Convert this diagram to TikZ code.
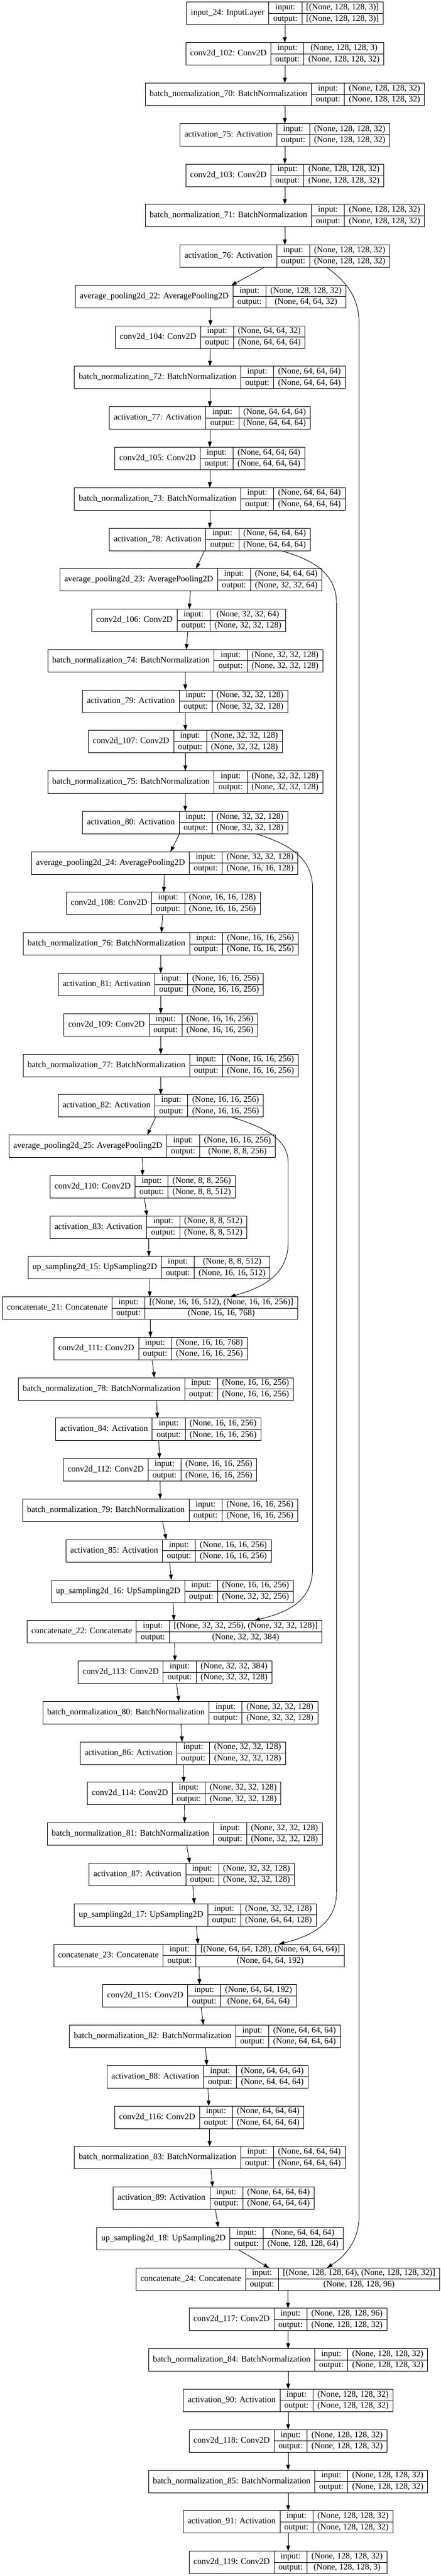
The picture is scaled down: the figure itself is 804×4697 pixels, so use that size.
\documentclass[tikz,border=0pt]{standalone}
\usepackage{fontspec}
\setmainfont{Liberation Serif}
\usetikzlibrary{arrows.meta}
\newcommand\lfont{\fontsize{15.6}{18}\selectfont}
\newlength\lwa \newlength\lwb \newlength\lwc \newlength\lwx \newlength\lwt
\newcommand\measure[2]{\pgfinterruptpicture\sbox0{\normalfont\lfont #2}\global#1=\wd0\relax\endpgfinterruptpicture}
\tikzset{
  box/.style={draw=black, line width=1pt, minimum height=41pt, inner sep=0pt, outer sep=0pt, anchor=north west},
  cell/.style={draw=black, line width=0.9pt},
  txt/.style={inner sep=0pt, font=\lfont, text height=7pt, text depth=0pt},
  edge/.style={draw=black, line width=0.9pt, -{Triangle[length=10pt,width=7pt]}},
}
\newcommand\layer[6]{%
  \measure\lwa{#4}\addtolength\lwa{16pt}%
  \measure\lwb{output:}\addtolength\lwb{16pt}%
  \measure\lwc{#5}\measure\lwx{#6}%
  \ifdim\lwx>\lwc \lwc=\lwx\fi
  \addtolength\lwc{16pt}%
  \lwt=\dimexpr\lwa+\lwb+\lwc\relax
  \pgfmathsetmacro\yt{4+73.77*#2}%
  \pgfmathsetmacro\ym{\yt+20.5}%
  \pgfmathsetmacro\yb{\yt+41}%
  \pgfmathsetmacro\yu{\yt+10.25}%
  \pgfmathsetmacro\yd{\yt+30.75}%
  \pgfmathsetmacro\xl{#3-0.5*\lwt}%
  \pgfmathsetmacro\xa{\xl+\lwa}%
  \pgfmathsetmacro\xb{\xa+\lwb}%
  \pgfmathsetmacro\xr{\xb+\lwc}%
  \pgfmathsetmacro\xna{\xl+0.5*\lwa}%
  \pgfmathsetmacro\xnb{\xa+0.5*\lwb}%
  \pgfmathsetmacro\xnc{\xb+0.5*\lwc}%
  \node[box, minimum width=\lwt] (#1) at (\xl,\yt) {};
  \draw[cell] (\xa,\yt) -- (\xa,\yb) (\xb,\yt) -- (\xb,\yb) (\xa,\ym) -- (\xr,\ym);
  \node[txt] (#1-n) at (\xna,\ym) {#4};
  \node[txt] (#1-i) at (\xnb,\yu) {input:};
  \node[txt] (#1-o) at (\xnb,\yd) {output:};
  \node[txt] (#1-a) at (\xnc,\yu) {#5};
  \node[txt] (#1-b) at (\xnc,\yd) {#6};
}
\begin{document}
\begin{tikzpicture}[x=1pt,y=-1pt]
\fill[white] (0,0) rectangle (804,4697);
\useasboundingbox (0,0) rectangle (804,4697);
\layer{in24}{0}{520}{input\_24: InputLayer}{[(None, 128, 128, 3)]}{[(None, 128, 128, 3)]}
\layer{c102}{1}{520}{conv2d\_102: Conv2D}{(None, 128, 128, 3)}{(None, 128, 128, 32)}
\layer{bn70}{2}{520}{batch\_normalization\_70: BatchNormalization}{(None, 128, 128, 32)}{(None, 128, 128, 32)}
\layer{a75}{3}{520}{activation\_75: Activation}{(None, 128, 128, 32)}{(None, 128, 128, 32)}
\layer{c103}{4}{520}{conv2d\_103: Conv2D}{(None, 128, 128, 32)}{(None, 128, 128, 32)}
\layer{bn71}{5}{520}{batch\_normalization\_71: BatchNormalization}{(None, 128, 128, 32)}{(None, 128, 128, 32)}
\layer{a76}{6}{520}{activation\_76: Activation}{(None, 128, 128, 32)}{(None, 128, 128, 32)}
\layer{ap22}{7}{384.5}{average\_pooling2d\_22: AveragePooling2D}{(None, 128, 128, 32)}{(None, 64, 64, 32)}
\layer{c104}{8}{383.8}{conv2d\_104: Conv2D}{(None, 64, 64, 32)}{(None, 64, 64, 64)}
\layer{bn72}{9}{383}{batch\_normalization\_72: BatchNormalization}{(None, 64, 64, 64)}{(None, 64, 64, 64)}
\layer{a77}{10}{383}{activation\_77: Activation}{(None, 64, 64, 64)}{(None, 64, 64, 64)}
\layer{c105}{11}{383}{conv2d\_105: Conv2D}{(None, 64, 64, 64)}{(None, 64, 64, 64)}
\layer{bn73}{12}{383}{batch\_normalization\_73: BatchNormalization}{(None, 64, 64, 64)}{(None, 64, 64, 64)}
\layer{a78}{13}{383}{activation\_78: Activation}{(None, 64, 64, 64)}{(None, 64, 64, 64)}
\layer{ap23}{14}{348.5}{average\_pooling2d\_23: AveragePooling2D}{(None, 64, 64, 64)}{(None, 32, 32, 64)}
\layer{c106}{15}{344.6}{conv2d\_106: Conv2D}{(None, 32, 32, 64)}{(None, 32, 32, 128)}
\layer{bn74}{16}{338.3}{batch\_normalization\_74: BatchNormalization}{(None, 32, 32, 128)}{(None, 32, 32, 128)}
\layer{a79}{17}{338.1}{activation\_79: Activation}{(None, 32, 32, 128)}{(None, 32, 32, 128)}
\layer{c107}{18}{338.4}{conv2d\_107: Conv2D}{(None, 32, 32, 128)}{(None, 32, 32, 128)}
\layer{bn75}{19}{338.3}{batch\_normalization\_75: BatchNormalization}{(None, 32, 32, 128)}{(None, 32, 32, 128)}
\layer{a80}{20}{338.1}{activation\_80: Activation}{(None, 32, 32, 128)}{(None, 32, 32, 128)}
\layer{ap24}{21}{300.8}{average\_pooling2d\_24: AveragePooling2D}{(None, 32, 32, 128)}{(None, 16, 16, 128)}
\layer{c108}{22}{298.2}{conv2d\_108: Conv2D}{(None, 16, 16, 128)}{(None, 16, 16, 256)}
\layer{bn76}{23}{293.5}{batch\_normalization\_76: BatchNormalization}{(None, 16, 16, 256)}{(None, 16, 16, 256)}
\layer{a81}{24}{293.6}{activation\_81: Activation}{(None, 16, 16, 256)}{(None, 16, 16, 256)}
\layer{c109}{25}{293.5}{conv2d\_109: Conv2D}{(None, 16, 16, 256)}{(None, 16, 16, 256)}
\layer{bn77}{26}{293.5}{batch\_normalization\_77: BatchNormalization}{(None, 16, 16, 256)}{(None, 16, 16, 256)}
\layer{a82}{27}{293.6}{activation\_82: Activation}{(None, 16, 16, 256)}{(None, 16, 16, 256)}
\layer{ap25}{28}{259.5}{average\_pooling2d\_25: AveragePooling2D}{(None, 16, 16, 256)}{(None, 8, 8, 256)}
\layer{c110}{29}{260.6}{conv2d\_110: Conv2D}{(None, 8, 8, 256)}{(None, 8, 8, 512)}
\layer{a83}{30}{271.1}{activation\_83: Activation}{(None, 8, 8, 512)}{(None, 8, 8, 512)}
\layer{up15}{31}{272.2}{up\_sampling2d\_15: UpSampling2D}{(None, 8, 8, 512)}{(None, 16, 16, 512)}
\layer{cat21}{32}{274}{concatenate\_21: Concatenate}{[(None, 16, 16, 512), (None, 16, 16, 256)]}{(None, 16, 16, 768)}
\layer{c111}{33}{275}{conv2d\_111: Conv2D}{(None, 16, 16, 768)}{(None, 16, 16, 256)}
\layer{bn78}{34}{284.5}{batch\_normalization\_78: BatchNormalization}{(None, 16, 16, 256)}{(None, 16, 16, 256)}
\layer{a84}{35}{288.9}{activation\_84: Activation}{(None, 16, 16, 256)}{(None, 16, 16, 256)}
\layer{c112}{36}{292}{conv2d\_112: Conv2D}{(None, 16, 16, 256)}{(None, 16, 16, 256)}
\layer{bn79}{37}{292.5}{batch\_normalization\_79: BatchNormalization}{(None, 16, 16, 256)}{(None, 16, 16, 256)}
\layer{a85}{38}{307.7}{activation\_85: Activation}{(None, 16, 16, 256)}{(None, 16, 16, 256)}
\layer{up16}{39}{314.9}{up\_sampling2d\_16: UpSampling2D}{(None, 16, 16, 256)}{(None, 32, 32, 256)}
\layer{cat22}{40}{318.5}{concatenate\_22: Concatenate}{[(None, 32, 32, 256), (None, 32, 32, 128)]}{(None, 32, 32, 384)}
\layer{c113}{41}{319.6}{conv2d\_113: Conv2D}{(None, 32, 32, 384)}{(None, 32, 32, 128)}
\layer{bn80}{42}{329.1}{batch\_normalization\_80: BatchNormalization}{(None, 32, 32, 128)}{(None, 32, 32, 128)}
\layer{a86}{43}{333.7}{activation\_86: Activation}{(None, 32, 32, 128)}{(None, 32, 32, 128)}
\layer{c114}{44}{336.3}{conv2d\_114: Conv2D}{(None, 32, 32, 128)}{(None, 32, 32, 128)}
\layer{bn81}{45}{337.3}{batch\_normalization\_81: BatchNormalization}{(None, 32, 32, 128)}{(None, 32, 32, 128)}
\layer{a87}{46}{350}{activation\_87: Activation}{(None, 32, 32, 128)}{(None, 32, 32, 128)}
\layer{up17}{47}{356.7}{up\_sampling2d\_17: UpSampling2D}{(None, 32, 32, 128)}{(None, 64, 64, 128)}
\layer{cat23}{48}{363.3}{concatenate\_23: Concatenate}{[(None, 64, 64, 128), (None, 64, 64, 64)]}{(None, 64, 64, 192)}
\layer{c115}{49}{364.4}{conv2d\_115: Conv2D}{(None, 64, 64, 192)}{(None, 64, 64, 64)}
\layer{bn82}{50}{373.9}{batch\_normalization\_82: BatchNormalization}{(None, 64, 64, 64)}{(None, 64, 64, 64)}
\layer{a88}{51}{378.8}{activation\_88: Activation}{(None, 64, 64, 64)}{(None, 64, 64, 64)}
\layer{c116}{52}{382.1}{conv2d\_116: Conv2D}{(None, 64, 64, 64)}{(None, 64, 64, 64)}
\layer{bn83}{53}{382.9}{batch\_normalization\_83: BatchNormalization}{(None, 64, 64, 64)}{(None, 64, 64, 64)}
\layer{a89}{54}{390.1}{activation\_89: Activation}{(None, 64, 64, 64)}{(None, 64, 64, 64)}
\layer{up18}{55}{401.4}{up\_sampling2d\_18: UpSampling2D}{(None, 64, 64, 64)}{(None, 128, 128, 64)}
\layer{cat24}{56}{525.5}{concatenate\_24: Concatenate}{[(None, 128, 128, 64), (None, 128, 128, 32)]}{(None, 128, 128, 96)}
\layer{c117}{57}{525.8}{conv2d\_117: Conv2D}{(None, 128, 128, 96)}{(None, 128, 128, 32)}
\layer{bn84}{58}{526}{batch\_normalization\_84: BatchNormalization}{(None, 128, 128, 32)}{(None, 128, 128, 32)}
\layer{a90}{59}{526}{activation\_90: Activation}{(None, 128, 128, 32)}{(None, 128, 128, 32)}
\layer{c118}{60}{526}{conv2d\_118: Conv2D}{(None, 128, 128, 32)}{(None, 128, 128, 32)}
\layer{bn85}{61}{526}{batch\_normalization\_85: BatchNormalization}{(None, 128, 128, 32)}{(None, 128, 128, 32)}
\layer{a91}{62}{526}{activation\_91: Activation}{(None, 128, 128, 32)}{(None, 128, 128, 32)}
\layer{c119}{63}{526}{conv2d\_119: Conv2D}{(None, 128, 128, 32)}{(None, 128, 128, 3)}
\foreach \a/\b in {in24/c102, c102/bn70, bn70/a75, a75/c103, c103/bn71, bn71/a76, a76/ap22, ap22/c104, c104/bn72, bn72/a77, a77/c105, c105/bn73, bn73/a78, a78/ap23, ap23/c106, c106/bn74, bn74/a79, a79/c107, c107/bn75, bn75/a80, a80/ap24, ap24/c108, c108/bn76, bn76/a81, a81/c109, c109/bn77, bn77/a82, a82/ap25, ap25/c110, c110/a83, a83/up15, up15/cat21, cat21/c111, c111/bn78, bn78/a84, a84/c112, c112/bn79, bn79/a85, a85/up16, up16/cat22, cat22/c113, c113/bn80, bn80/a86, a86/c114, c114/bn81, bn81/a87, a87/up17, up17/cat23, cat23/c115, c115/bn82, bn82/a88, a88/c116, c116/bn83, bn83/a89, a89/up18, up18/cat24, cat24/c117, c117/bn84, bn84/a90, a90/c118, c118/bn85, bn85/a91, a91/c119}
  \draw[edge] (\a) -- (\b);
\draw[edge] (a76.-15.5) .. controls (635,515) and (655.5,545) .. (655.5,590) -- (655.5,4040) .. controls (655.5,4090) and (625,4117) .. (cat24.16.5);
\draw[edge] (a78.-9.3) .. controls (570,1020) and (614.3,1045) .. (614.3,1100) -- (614.3,3450) .. controls (614.3,3515) and (555,3533) .. (cat23.8.9);
\draw[edge] (a80.-9.1) .. controls (530,1540) and (570.6,1565) .. (570.6,1620) -- (570.6,2860) .. controls (570.6,2925) and (515,2942) .. (cat22.8.5);
\draw[edge] (a82.-9.05) .. controls (480,2055) and (526,2075) .. (526,2120) -- (526,2265) .. controls (526,2330) and (470,2350) .. (cat21.8.45);
\end{tikzpicture}
\end{document}
